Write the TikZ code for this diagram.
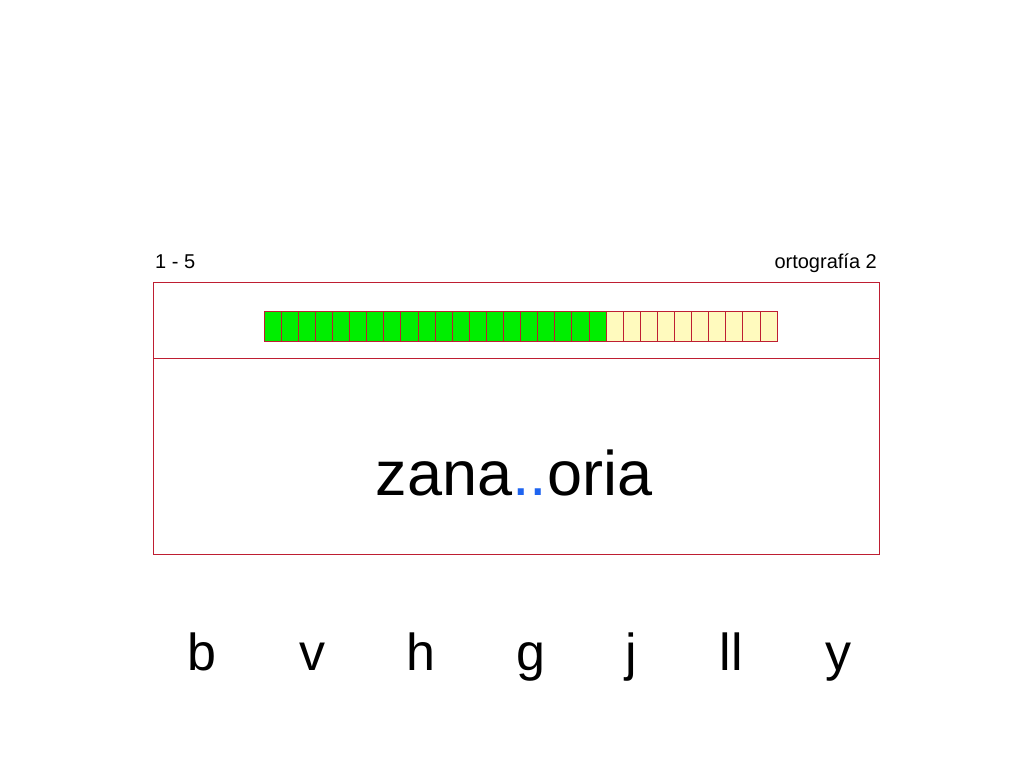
\documentclass[tikz,border=0pt]{standalone}
\usepackage{fontspec}
\setmainfont{Liberation Sans}
\definecolor{frame}{RGB}{190,30,50}
\definecolor{gr}{RGB}{0,238,0}
\definecolor{ye}{RGB}{255,250,190}
\definecolor{bl}{RGB}{30,100,240}
\begin{document}
\begin{tikzpicture}[x=1pt,y=-1pt,
  cell/.style={draw=frame,line width=0.8pt},
  lbl/.style={font=\fontsize{20}{24}\selectfont,inner sep=0},
  letter/.style={font=\fontsize{52}{60}\selectfont,inner sep=0,anchor=base}]
\useasboundingbox (0,0) rectangle (1024,768);
\draw[frame,line width=1pt] (153,282) rectangle (879,554);
\draw[frame,line width=1pt] (153,358) -- (879,358);
\foreach \i in {0,...,29}{
  \pgfmathsetmacro\xa{264+\i*17.1}
  \pgfmathsetmacro\xb{264+(\i+1)*17.1}
  \ifnum\i<20 \def\c{gr}\else\def\c{ye}\fi
  \draw[cell,fill=\c] (\xa,311) rectangle (\xb,341);
}
\node[lbl,anchor=base west] (num) at (155,268) {1 - 5};
\node[lbl,anchor=base east] (tit) at (877,268) {ortografía 2};
\node[font=\fontsize{63}{70}\selectfont,anchor=base,inner sep=0] (w) at (514,495) {zana\textcolor{bl}{..}oria};
\foreach \t/\x [count=\k] in {b/202,v/312,h/421,g/531,j/631,ll/731,y/838}
  \node[letter] (l\k) at (\x,670) {\t};
\end{tikzpicture}
\end{document}
